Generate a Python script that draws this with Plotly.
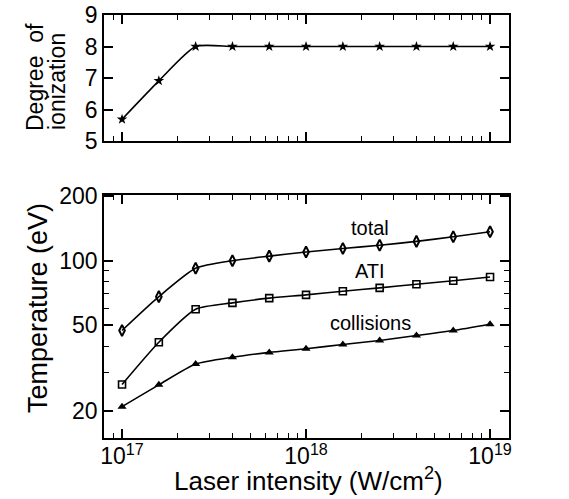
import plotly.graph_objects as go

intensity = [1e17, 1.585e17, 2.512e17, 3.981e17, 6.31e17, 1e18, 1.585e18, 2.512e18, 3.981e18, 6.31e18, 1e19]
ionization = [5.69, 6.91, 8.0, 8.0, 8.0, 8.0, 8.0, 8.0, 8.0, 8.0, 8.0]
T_total = [47.3, 68, 92.2, 100, 105, 109.8, 114, 118, 123, 129.3, 136.5]
T_ati = [26.5, 41.7, 59.4, 63.6, 66.9, 69.3, 72.1, 74.7, 77.7, 80.7, 84]
T_coll = [20.9, 26.4, 33, 35.5, 37.4, 38.9, 40.7, 42.5, 44.8, 47.3, 50.6]

x_ticks = [1e17, 1e18, 1e19]
x_ticktext = ["10<sup>17</sup>", "10<sup>18</sup>", "10<sup>19</sup>"]
x_minor = [m * 10 ** e for e in (16, 17, 18) for m in range(2, 10)]
y_top_ticks = [5, 6, 7, 8, 9]
y_bot_ticks = [20, 50, 100, 200]
y_bot_minor = [30, 40, 60, 70, 80, 90]

FONT = "Liberation Sans"
W, H = 569, 499
# plot area in window pixels: x 104..509, y 15..438
L, T = 104, 15
PW, PH = 405, 423
R, B = W - L - PW, H - T - PH


def px(x):
    return (x - L) / PW


def py(y):
    return (T + PH - y) / PH


line = dict(color="black", width=1.6, shape="spline", smoothing=0.6)

fig = go.Figure()
fig.add_trace(go.Scatter(x=intensity, y=ionization, mode="lines+markers", line=line,
                         marker=dict(symbol="star", size=8, color="black"),
                         xaxis="x", yaxis="y"))
fig.add_trace(go.Scatter(x=intensity, y=T_total, mode="lines+markers", line=line,
                         marker=dict(symbol="diamond-tall-open", size=8, color="black", line=dict(width=2)),
                         xaxis="x2", yaxis="y2"))
fig.add_trace(go.Scatter(x=intensity, y=T_ati, mode="lines+markers", line=line,
                         marker=dict(symbol="square-open", size=7, color="black", line=dict(width=1.6)),
                         xaxis="x2", yaxis="y2"))
fig.add_trace(go.Scatter(x=intensity, y=T_coll, mode="lines+markers", line=line,
                         marker=dict(symbol="triangle-up", size=8, color="black"),
                         xaxis="x2", yaxis="y2"))

axcommon = dict(showgrid=False, zeroline=False, automargin=False,
                showline=True, linecolor="black", linewidth=1.5, mirror="allticks",
                ticks="inside", ticklen=9, tickwidth=1.5, tickcolor="black",
                tickfont=dict(size=23), ticklabeloverflow="allow")
xcommon = dict(type="log", range=[16.902, 19.103], tickvals=x_ticks,
               minor=dict(tickvals=x_minor, ticks="inside", ticklen=5, tickwidth=1.2,
                          tickcolor="black", showgrid=False), **axcommon)

fig.update_layout(
    width=W, height=H,
    margin=dict(l=L, r=R, t=T, b=B, autoexpand=False),
    paper_bgcolor="white", plot_bgcolor="white",
    showlegend=False,
    font=dict(family=FONT, size=22, color="black"),
    xaxis=dict(**xcommon, anchor="y", showticklabels=False),
    yaxis=dict(domain=[py(141), 1.0], range=[5, 9], tickvals=y_top_ticks, anchor="x", **axcommon),
    xaxis2=dict(**xcommon, anchor="y2", ticktext=x_ticktext, ticklabelstandoff=-3),
    yaxis2=dict(domain=[0.0, py(195)], type="log", range=[1.174, 2.306],
                tickvals=y_bot_ticks, ticktext=[str(v) for v in y_bot_ticks],
                minor=dict(tickvals=y_bot_minor, ticks="inside", ticklen=5, tickwidth=1.2,
                           tickcolor="black", showgrid=False),
                anchor="x2", **axcommon),
)

annots = [
    dict(text="total", x=18.35, y=2.152, xref="x2", yref="y2", font=dict(size=20)),
    dict(text="ATI", x=18.35, y=1.954, xref="x2", yref="y2", font=dict(size=20)),
    dict(text="collisions", x=18.35, y=1.709, xref="x2", yref="y2", font=dict(size=20)),
    dict(text="Degree  of", x=px(35), y=py(77), xref="paper", yref="paper",
         textangle=-90, font=dict(size=23)),
    dict(text="ionization", x=px(57), y=py(82), xref="paper", yref="paper",
         textangle=-90, font=dict(size=23)),
    dict(text="Temperature (eV)", x=px(38), y=py(308), xref="paper", yref="paper",
         textangle=-90, font=dict(size=27)),
    dict(text="Laser intensity (W/cm<sup>2</sup>)", x=px(308), y=py(479),
         xref="paper", yref="paper", font=dict(size=26)),
]
for a in annots:
    a.update(showarrow=False, xanchor="center", yanchor="middle")
    fig.add_annotation(**a)

# remove the browser's default page margin so the figure fills the window exactly
fig.write_html("out.html", config={"displayModeBar": False},
               post_script="document.body.style.margin='0px';")
